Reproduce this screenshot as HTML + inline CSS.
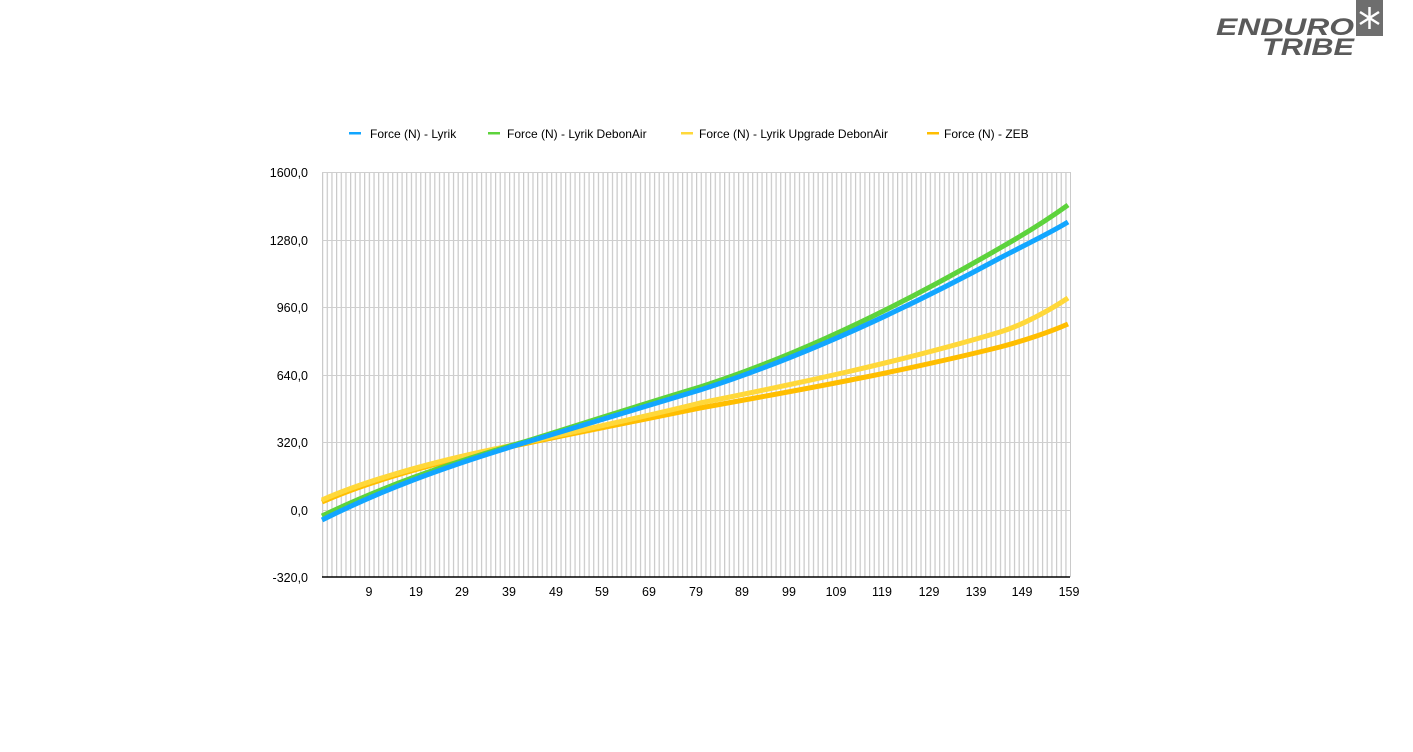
<!DOCTYPE html>
<html><head><meta charset="utf-8"><style>
html,body{margin:0;padding:0;background:#fff;}
body{width:1413px;height:752px;overflow:hidden;position:relative;font-family:"Liberation Sans",Arial,sans-serif;}
</style></head><body>
<svg width="1413" height="752" xmlns="http://www.w3.org/2000/svg" style="position:absolute;left:0;top:0">
<defs>
<pattern id="vg" x="322" y="0" width="4.675" height="752" patternUnits="userSpaceOnUse">
<rect x="0" y="0" width="1.2" height="752" fill="#c9c9c9"/>
</pattern>
</defs>
<rect x="322" y="172" width="749" height="405" fill="url(#vg)"/>
<g stroke="#cfcfcf" stroke-width="1">
<line x1="322" y1="172.5" x2="1070" y2="172.5"/><line x1="322" y1="240.5" x2="1070" y2="240.5"/>
<line x1="322" y1="307.5" x2="1070" y2="307.5"/><line x1="322" y1="375.5" x2="1070" y2="375.5"/>
<line x1="322" y1="442.5" x2="1070" y2="442.5"/><line x1="322" y1="510.5" x2="1070" y2="510.5"/>
</g>
<line x1="322" y1="577" x2="1070" y2="577" stroke="#000" stroke-width="1.5"/>
<g font-size="12.5" fill="#000" text-anchor="end">
<text x="308" y="177">1600,0</text><text x="308" y="245">1280,0</text><text x="308" y="312">960,0</text>
<text x="308" y="380">640,0</text><text x="308" y="447">320,0</text><text x="308" y="515">0,0</text><text x="308" y="582">-320,0</text>
</g>
<g font-size="12.5" fill="#000" text-anchor="middle">
<text x="369" y="596">9</text><text x="416" y="596">19</text><text x="462" y="596">29</text><text x="509" y="596">39</text>
<text x="556" y="596">49</text><text x="602" y="596">59</text><text x="649" y="596">69</text><text x="696" y="596">79</text>
<text x="742" y="596">89</text><text x="789" y="596">99</text><text x="836" y="596">109</text><text x="882" y="596">119</text>
<text x="929" y="596">129</text><text x="976" y="596">139</text><text x="1022" y="596">149</text><text x="1069" y="596">159</text>
</g>
<g fill="none" stroke-width="5" stroke-linejoin="round" stroke-linecap="butt">
<path stroke="#ffbe00" d="M322,502 C360,485 420,467 490,451 C560,436 640,420 700,408 C800,390 900,372 1000,347 C1023,341 1050,332 1068,324"/>
<path stroke="#ffd83a" d="M322,500 C360,483 420,465 490,450 C560,435 640,418 700,403 C800,383 900,362 1000,332 C1023,325 1050,310 1068,298"/>
<path stroke="#5dd33c" d="M322,516 C380,488 440,466 527,441 C600,418 650,402 700,387 C800,355 900,306 1000,248 C1023,235 1050,218 1068,205"/>
<path stroke="#12a6ff" d="M322,520 C380,491 440,468 527,442 C600,420 650,405 700,390 C800,358 900,312 1000,258 C1023,246 1050,233 1068,222"/>
</g>
<g font-size="12" fill="#000">
<rect x="349" y="132" width="12" height="2.5" fill="#12a6ff"/><text x="370" y="138">Force (N) - Lyrik</text>
<rect x="488" y="132" width="12" height="2.5" fill="#5dd33c"/><text x="507" y="138">Force (N) - Lyrik DebonAir</text>
<rect x="681" y="132" width="12" height="2.5" fill="#ffd83a"/><text x="699" y="138">Force (N) - Lyrik Upgrade DebonAir</text>
<rect x="927" y="132" width="12" height="2.5" fill="#ffbe00"/><text x="944" y="138">Force (N) - ZEB</text>
</g>
<rect x="1356" y="0" width="27" height="36" fill="#6e6e6e"/>
<g stroke="#fff" stroke-width="2.5"><line x1="1369.5" y1="7" x2="1369.5" y2="29"/><line x1="1360" y1="12" x2="1379" y2="24"/><line x1="1360" y1="24" x2="1379" y2="12"/></g>
<g font-weight="bold" font-style="italic" fill="#5a5a5a" text-anchor="end">
<text x="1354" y="35" font-size="24" textLength="138" lengthAdjust="spacingAndGlyphs">ENDURO</text>
<text x="1354" y="55" font-size="24" textLength="92" lengthAdjust="spacingAndGlyphs">TRIBE</text>
</g>
</svg>
</body></html>
